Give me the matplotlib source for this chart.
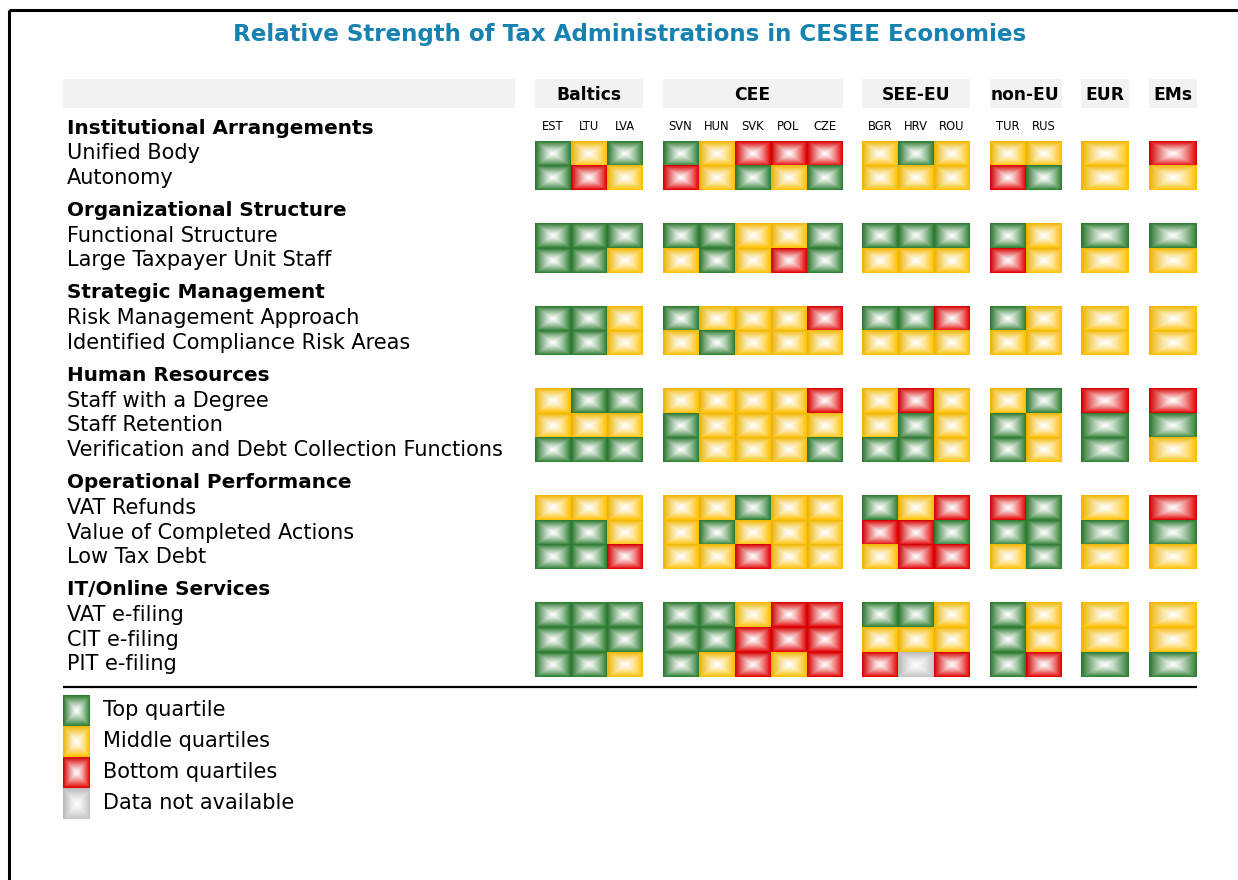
import numpy as np
import matplotlib
matplotlib.use("Agg")
import matplotlib.pyplot as plt
from matplotlib.colors import to_rgb
from matplotlib.patches import Rectangle

# ---------------- data ----------------
title = "Relative Strength of Tax Administrations in CESEE Economies"
groups = ["Baltics", "CEE", "SEE-EU", "non-EU", "EUR", "EMs"]
group_countries = [["EST", "LTU", "LVA"],
                   ["SVN", "HUN", "SVK", "POL", "CZE"],
                   ["BGR", "HRV", "ROU"],
                   ["TUR", "RUS"],
                   [""],
                   [""]]
sections = ["Institutional Arrangements", "Organizational Structure",
            "Strategic Management", "Human Resources",
            "Operational Performance", "IT/Online Services"]
section_items = [
    ["Unified Body", "Autonomy"],
    ["Functional Structure", "Large Taxpayer Unit Staff"],
    ["Risk Management Approach", "Identified Compliance Risk Areas"],
    ["Staff with a Degree", "Staff Retention", "Verification and Debt Collection Functions"],
    ["VAT Refunds", "Value of Completed Actions", "Low Tax Debt"],
    ["VAT e-filing", "CIT e-filing", "PIT e-filing"],
]
# G = top quartile, Y = middle quartiles, R = bottom quartiles, N = not available
# columns grouped as: Baltics | CEE | SEE-EU | non-EU | EUR | EMs
ratings = {
    "Unified Body":                               "GYG GYRRR YGY YY Y R",
    "Autonomy":                                   "GRY RYGYG YYY RG Y Y",
    "Functional Structure":                       "GGG GGYYG GGG GY G G",
    "Large Taxpayer Unit Staff":                  "GGY YGYRG YYY RY Y Y",
    "Risk Management Approach":                   "GGY GYYYR GGR GY Y Y",
    "Identified Compliance Risk Areas":           "GGY YGYYY YYY YY Y Y",
    "Staff with a Degree":                        "YGG YYYYR YRY YG R R",
    "Staff Retention":                            "YYY GYYYY YGY GY G G",
    "Verification and Debt Collection Functions": "GGG GYYYG GGY GY G Y",
    "VAT Refunds":                                "YYY YYGYY GYR RG Y R",
    "Value of Completed Actions":                 "GGY YGYYY RRG GG G G",
    "Low Tax Debt":                               "GGR YYRYY YRR YG Y Y",
    "VAT e-filing":                               "GGG GGYRR GGY GY Y Y",
    "CIT e-filing":                               "GGG GGRRR YYY GY Y Y",
    "PIT e-filing":                               "GGY GYRYR RNR GR G G",
}
legend_codes = ["G", "Y", "R", "N"]
legend_labels = ["Top quartile", "Middle quartiles", "Bottom quartiles", "Data not available"]

# ---------------- styles ----------------
base_colors = {"G": "#2e7f32", "Y": "#ffc000", "R": "#e20000", "N": "#c4c4c4"}
title_color = "#1682b2"
header_bg = "#f2f2f2"
FONT = "DejaVu Sans"


def pyramid(code, n=48):
    """Concentric-square gradient: base colour at the rim, white in the middle."""
    base = np.array(to_rgb(base_colors[code]))
    u = np.linspace(-1, 1, n)
    U, V = np.meshgrid(u, u)
    d = np.maximum(np.abs(U), np.abs(V))
    t = np.clip(d, 0, 1) ** 1.25
    shade = np.where((V < 0) & (np.abs(V) >= np.abs(U)), 0.95, 1.0)
    shade = np.where((U < 0) & (np.abs(U) > np.abs(V)), 0.93, shade)
    img = (1 - t)[..., None] * np.ones(3) + t[..., None] * base
    img = img * (1 - t[..., None] * (1 - shade[..., None]))
    return np.clip(img, 0, 1)


W, H = 1238, 880
fig = plt.figure(figsize=(W / 100, H / 100), dpi=100)
ax = fig.add_axes([0, 0, 1, 1])
ax.set_xlim(0, W)
ax.set_ylim(H, 0)
ax.axis("off")

# frame lines (top and left)
ax.plot([9, W], [10, 10], color="black", lw=2.2, solid_capstyle="butt")
ax.plot([9, 9], [10, H], color="black", lw=2.2, solid_capstyle="butt")

# title
ax.text(630, 34, title, ha="center", va="center", fontsize=16.6, fontweight="bold",
        color=title_color, family=FONT)

# ---------------- layout ----------------
x_start = 535
col_w_multi = 36
col_w_single = 48
group_gap = 19.5
label_x = 67
row_h = 24.6
first_top = 141
section_gap = 33.3
head_top, head_bot = 79, 108
LBL = 15.0
SEC = 14.4

# column positions
col_x = []
group_spans = []
x = x_start
for gi, cs in enumerate(group_countries):
    w = col_w_multi if len(cs) > 1 else col_w_single
    gx0 = x
    for c in cs:
        col_x.append((x, w))
        x += w
    group_spans.append((gx0, x))
    x += group_gap

# header band
ax.add_patch(Rectangle((63, head_top), 515 - 63, head_bot - head_top, color=header_bg, lw=0))
for g, (gx0, gx1) in zip(groups, group_spans):
    ax.add_patch(Rectangle((gx0, head_top), gx1 - gx0, head_bot - head_top, color=header_bg, lw=0))
    ax.text((gx0 + gx1) / 2, (head_top + head_bot) / 2 + 1, g, ha="center", va="center",
            fontsize=12.3, fontweight="bold", family=FONT)

# country codes
flat_codes = [c for cs in group_countries for c in cs]
for c, (cx, w) in zip(flat_codes, col_x):
    if c:
        ax.text(cx + w / 2, 126, c, ha="center", va="center", fontsize=8.3, family=FONT)

# rows
y = first_top
for sec, items in zip(sections, section_items):
    ax.text(label_x, y - 13, sec, ha="left", va="center", fontsize=SEC,
            fontweight="bold", family=FONT)
    for item in items:
        ax.text(label_x, y + row_h / 2, item, ha="left", va="center", fontsize=LBL, family=FONT)
        codes = ratings[item].replace(" ", "")
        for code, (cx, w) in zip(codes, col_x):
            ax.imshow(pyramid(code), extent=[cx, cx + w, y + row_h, y],
                      aspect="auto", interpolation="bilinear", zorder=2)
        y += row_h
    last_bottom = y
    y += section_gap

# separator line
ax.plot([63, group_spans[-1][1]], [last_bottom + 10, last_bottom + 10],
        color="black", lw=1.6, solid_capstyle="butt")

# legend
leg_top = last_bottom + 18
leg_h = 31
for i, (code, lab) in enumerate(zip(legend_codes, legend_labels)):
    y0 = leg_top + i * leg_h
    ax.imshow(pyramid(code), extent=[63, 90, y0 + leg_h, y0], aspect="auto",
              interpolation="bilinear", zorder=2)
    ax.text(103, y0 + leg_h / 2, lab, ha="left", va="center", fontsize=LBL, family=FONT)

ax.set_xlim(0, W)
ax.set_ylim(H, 0)
fig.savefig("out.png", dpi=100)
